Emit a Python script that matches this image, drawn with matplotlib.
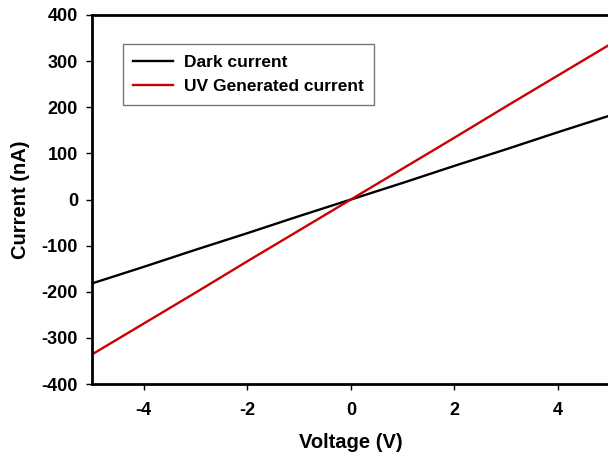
import matplotlib
matplotlib.use("Agg")
import matplotlib.pyplot as plt

voltage = [-5, -4, -3, -2, -1, 0, 1, 2, 3, 4, 5]
dark_current = [-182, -146, -109, -73, -36, 0, 36, 73, 109, 146, 182]
uv_current = [-336, -269, -202, -134, -67, 0, 67, 134, 202, 269, 336]

plt.rcParams["font.family"] = ["Liberation Sans", "DejaVu Sans"]
plt.rcParams["font.weight"] = "bold"
plt.rcParams["axes.unicode_minus"] = False

fig = plt.figure(figsize=(6.08, 4.54), dpi=100)
ax = fig.add_axes([0.151, 0.154, 0.852, 0.813])

ax.plot(voltage, dark_current, color="black", lw=1.7, label="Dark current")
ax.plot(voltage, uv_current, color="#cc0000", lw=1.7, label="UV Generated current")

ax.set_xlim(-5, 5)
ax.set_ylim(-400, 400)
ax.set_xticks([-4, -2, 0, 2, 4])
ax.set_yticks(range(-400, 401, 100))
ax.tick_params(direction="out", length=4, width=1, labelsize=13)
ax.tick_params(axis="x", pad=9)
ax.tick_params(axis="y", pad=6)
for lbl in ax.get_xticklabels() + ax.get_yticklabels():
    lbl.set_fontweight("bold")
for s in ax.spines.values():
    s.set_linewidth(2)

ax.set_xlabel("Voltage (V)", fontsize=14.5, fontweight="bold", labelpad=10)
ax.set_ylabel("Current (nA)", fontsize=14.5, fontweight="bold", labelpad=8)

leg = ax.legend(loc="upper left", bbox_to_anchor=(0.06, 0.921), borderaxespad=0,
                fancybox=False, framealpha=1, edgecolor="#777777",
                handlelength=2.3, handletextpad=0.6, borderpad=0.6,
                labelspacing=0.55, prop={"weight": "bold", "size": 12.5})
leg.get_frame().set_linewidth(1)

fig.savefig("out.png", dpi=100)
